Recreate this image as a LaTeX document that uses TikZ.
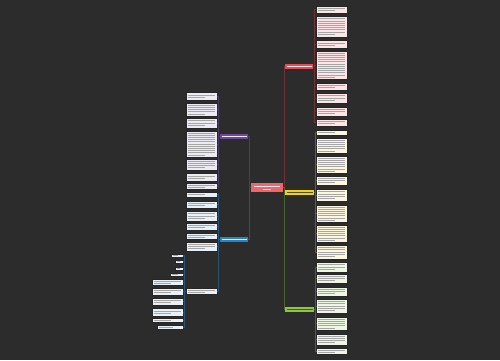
\documentclass[tikz,border=0pt]{standalone}
\usepackage{tikz}
\usepackage{xcolor}

\definecolor{bgdark}{RGB}{44,44,44}
\definecolor{rootred}{RGB}{240,100,110}
\definecolor{brred}{RGB}{232,74,85}
\definecolor{lfpink}{RGB}{252,228,231}
\definecolor{lnred}{RGB}{112,52,55}
\definecolor{bryellow}{RGB}{244,210,12}
\definecolor{lfyellow}{RGB}{253,247,224}
\definecolor{lnyellow}{RGB}{104,98,42}
\definecolor{brgreen}{RGB}{140,198,63}
\definecolor{lfgreen}{RGB}{238,246,228}
\definecolor{lngreen}{RGB}{72,102,46}
\definecolor{brpurple}{RGB}{107,74,158}
\definecolor{lfpurple}{RGB}{236,234,242}
\definecolor{lnpurple}{RGB}{74,60,102}
\definecolor{brblue}{RGB}{43,130,196}
\definecolor{lfblue}{RGB}{232,241,248}
\definecolor{lnblue}{RGB}{42,84,118}

\tikzset{
  leaf/.style={draw=black!85, line width=0.6pt, inner sep=0pt, outer sep=0pt, anchor=north west},
  branch/.style={inner sep=0pt, outer sep=0pt, anchor=north west},
  txt/.style={gray!70, line width=0.65pt},
  wtxt/.style={white!92!black, line width=0.6pt},
}

% name, x1, y1, x2, y2, style
\newcommand{\leafbox}[6]{%
  \node[leaf, #6, minimum width={(#4-#2)*1pt}, minimum height={(#5-#3)*1pt}] (#1) at (#2,#3) {};
  \pgfmathtruncatemacro\nl{max(1,(#5-#3-1.5)/2.2)}
  \pgfmathsetmacro\ys{#3+(#5-#3-(\nl-1)*2.2)/2}
  \foreach \i in {1,...,\nl}{
    \pgfmathsetmacro\xe{ifthenelse(\i==\nl, #2+(#4-#2)*0.62, #4-1.6)}
    \draw[txt] (#2+1.6, \ys+\i*2.2-2.2) -- (\xe, \ys+\i*2.2-2.2);
  }
}

\begin{document}
\begin{tikzpicture}[x=1pt,y=-1pt]
\useasboundingbox[fill=bgdark] (0,0) rectangle (500,360);

% root and main branches
\node[branch, fill=rootred, minimum width=32pt, minimum height=9pt] (root) at (251,183) {};
\draw[wtxt] (root.center)++(-13,-1.5) -- ++(26,0);
\draw[wtxt] (root.center)++(-4,1.8) -- ++(8,0);

\node[branch, fill=brred, minimum width=28pt, minimum height=4.5pt] (rb) at (285,64) {};
\node[branch, fill=bryellow, minimum width=29pt, minimum height=4.5pt] (yb) at (285,190) {};
\node[branch, fill=brgreen, minimum width=29pt, minimum height=4.5pt] (gb) at (285,307) {};
\node[branch, fill=brpurple, minimum width=28pt, minimum height=4.5pt] (pb) at (220,134) {};
\node[branch, fill=brblue, minimum width=28pt, minimum height=4.5pt] (bb) at (220,237) {};
\foreach \b in {rb,pb,bb}
  \draw[wtxt, line width=0.5pt] (\b.west)++(1.5,0) -- ++(25,0);
\foreach \b in {yb,gb}
  \draw[black!70, line width=0.5pt] (\b.west)++(1.5,0) -- ++(26,0);

\draw[lnred, line width=0.5pt] (root.east) -- ++(1,0) |- (rb.west);
\draw[lnyellow, line width=0.5pt] (root.east) -- ++(1,0) |- (yb.west);
\draw[lngreen, line width=0.5pt] (root.east) -- ++(1,0) |- (gb.west);
\draw[lnpurple, line width=0.5pt] (root.west) -- ++(-1.5,0) |- (pb.east);
\draw[lnblue, line width=0.5pt] (root.west) -- ++(-1.5,0) |- (bb.east);

% right leaves
\foreach \a/\b [count=\n] in {6/13,16/37,40/48,51/79,83/90,93/103,107/116,119/126}{
  \leafbox{r\n}{316}{\a}{347}{\b}{fill=lfpink}
  \draw[lnred, line width=0.45pt] (rb.east) -- ++(1.5,0) |- (r\n.west);
}
\foreach \a/\b [count=\n] in {130/135,138/153,156/173,176/185,189/201,205/222,225/242,245/259}{
  \leafbox{y\n}{316}{\a}{347}{\b}{fill=lfyellow}
  \draw[lnyellow, line width=0.45pt] (yb.east) -- ++(1.5,0) |- (y\n.west);
}
\foreach \a/\b [count=\n] in {262/272,274/283,287/296,299/313,317/330,334/345,348/354}{
  \leafbox{g\n}{316}{\a}{347}{\b}{fill=lfgreen}
  \draw[lngreen, line width=0.45pt] (gb.east) -- ++(1.5,0) |- (g\n.west);
}

% left leaves
\foreach \a/\b [count=\n] in {92/100,103/116,118/128,131/157,159/170,173/181,183/189}{
  \leafbox{p\n}{186}{\a}{217}{\b}{fill=lfpurple}
  \draw[lnpurple, line width=0.45pt] (pb.west) -- ++(-1.5,0) |- (p\n.east);
}
\foreach \a/\b [count=\n] in {192/197,201/208,211/221,223/230,233/239,242/251,288/294}{
  \leafbox{b\n}{186}{\a}{217}{\b}{fill=lfblue}
  \draw[lnblue, line width=0.45pt] (bb.west) -- ++(-1.5,0) |- (b\n.east);
}
\foreach \x/\a/\b [count=\n] in {171/254/257,175/260/263,175/267/270,170/273/276,152/279/285,
    152/288/295,152/298/305,152/308/316,152/318/322,157/325/329}{
  \leafbox{s\n}{\x}{\a}{183}{\b}{fill=lfblue}
  \draw[lnblue, line width=0.45pt] (b7.west) -- ++(-1.5,0) |- (s\n.east);
}
\end{tikzpicture}
\end{document}
